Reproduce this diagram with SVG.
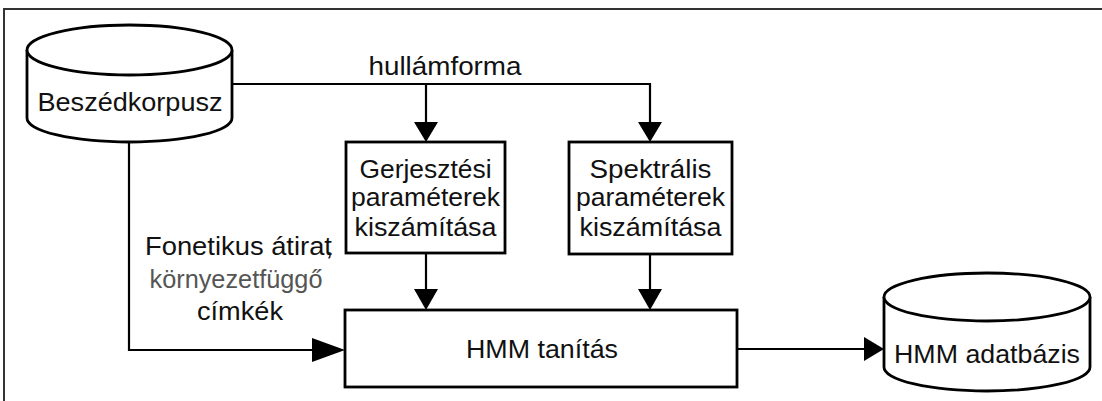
<svg xmlns="http://www.w3.org/2000/svg" width="1102" height="401" viewBox="0 0 1102 401">
<style>
.shape{fill:#fff;stroke:#000;stroke-width:2.8}
.line{fill:none;stroke:#000;stroke-width:2.2}
.head{fill:#000;stroke:none}
text{font-family:"Liberation Sans",Arial,sans-serif;font-size:26px;fill:#111;text-anchor:middle}
.lbl{font-size:25px}
.gray{fill:#555}
</style>
<rect x="4" y="9" width="1120" height="420" fill="#fff" stroke="#333" stroke-width="2"/>
<g id="connectors">
<path class="line" d="M232,84 H650 V125"/>
<path class="line" d="M426,84 V125"/>
<polygon class="head" points="414,122 438,122 426,142"/>
<polygon class="head" points="638,122 662,122 650,142"/>
<path class="line" d="M426,253 V292"/>
<polygon class="head" points="414,289 438,289 426,310"/>
<path class="line" d="M650,254 V292"/>
<polygon class="head" points="638,289 662,289 650,310"/>
<path class="line" d="M129,142 V350 H314"/>
<polygon class="head" points="312,338 312,362 345,350"/>
<path class="line" d="M737,349 H866"/>
<polygon class="head" points="864,337 864,361 884,349"/>
<text x="445" y="75" textLength="153" lengthAdjust="spacingAndGlyphs">hullámforma</text>
<text class="lbl" x="239" y="255" textLength="188" lengthAdjust="spacingAndGlyphs">Fonetikus átirat<tspan dx="-6">,</tspan></text>
<text class="lbl gray" x="236" y="288" textLength="173" lengthAdjust="spacingAndGlyphs">környezetfüggő</text>
<text class="lbl" x="240" y="320" textLength="86" lengthAdjust="spacingAndGlyphs">címkék</text>
</g>
<g id="beszedkorpusz">
<path class="shape" d="M27,50 A102.5,25 0 0 1 232,50 V118 A102.5,24 0 0 1 27,118 Z"/>
<path class="shape" fill="none" d="M27,50 A102.5,25 0 0 0 232,50"/>
<text x="130" y="111" textLength="185" lengthAdjust="spacingAndGlyphs">Beszédkorpusz</text>
</g>
<g id="gerjesztesi">
<rect class="shape" x="346" y="142" width="159" height="111"/>
<text x="425.5" y="178" textLength="132" lengthAdjust="spacingAndGlyphs">Gerjesztési</text>
<text x="425.5" y="206" textLength="149" lengthAdjust="spacingAndGlyphs">paraméterek</text>
<text x="425.5" y="236" textLength="142" lengthAdjust="spacingAndGlyphs">kiszámítása</text>
</g>
<g id="spektralis">
<rect class="shape" x="569" y="142" width="163" height="112"/>
<text x="650.5" y="178" textLength="122" lengthAdjust="spacingAndGlyphs">Spektrális</text>
<text x="650.5" y="206" textLength="149" lengthAdjust="spacingAndGlyphs">paraméterek</text>
<text x="650.5" y="236" textLength="142" lengthAdjust="spacingAndGlyphs">kiszámítása</text>
</g>
<g id="hmm-tanitas">
<rect class="shape" x="345" y="310" width="392" height="77"/>
<text x="542" y="358" textLength="152" lengthAdjust="spacingAndGlyphs">HMM tanítás</text>
</g>
<g id="hmm-adatbazis">
<path class="shape" d="M884,297 A103,24 0 0 1 1090,297 V367 A103,24 0 0 1 884,367 Z"/>
<path class="shape" fill="none" d="M884,297 A103,24 0 0 0 1090,297"/>
<text x="987" y="363" textLength="186" lengthAdjust="spacingAndGlyphs">HMM adatbázis</text>
</g>
</svg>
